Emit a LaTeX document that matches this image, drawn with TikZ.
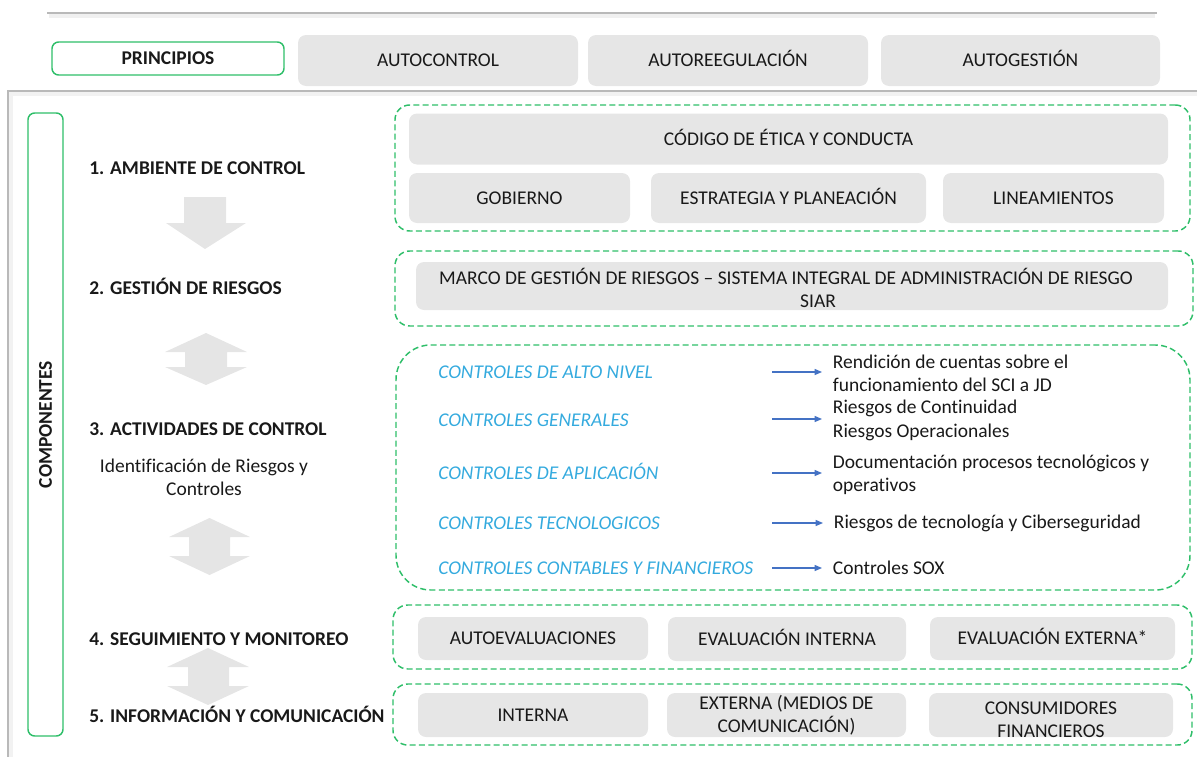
\documentclass[tikz,border=0pt]{standalone}
\usepackage{fontspec}
\setmainfont{Carlito}[Ligatures=NoCommon]
\usetikzlibrary{arrows.meta}
\definecolor{grn}{RGB}{46,190,105}
\definecolor{boxgray}{RGB}{230,230,230}
\definecolor{arrgray}{RGB}{229,229,229}
\definecolor{lblue}{RGB}{52,170,222}
\definecolor{dblue}{RGB}{68,114,196}
\definecolor{txt}{RGB}{25,25,25}
\definecolor{frameg}{RGB}{185,185,185}
\begin{document}
\begin{tikzpicture}[x=0.75pt,y=-0.75pt,
  font=\fontsize{14.6}{17.5}\selectfont, text=txt,
  sz/.style 2 args={minimum width=#1*0.75pt, minimum height=#2*0.75pt},
  gbox/.style={fill=boxgray, rounded corners=6pt, inner sep=0pt, align=center},
  one/.style={text height=9.4pt, text depth=0pt},
  dbox/.style={draw=grn, line width=1.1pt, dash pattern=on 4.5pt off 2.5pt, rounded corners=11pt, inner sep=0pt},
  sbox/.style={draw=grn, line width=1.1pt, rounded corners=5pt, inner sep=0pt},
  comp/.style={font=\fontsize{14.6}{17.5}\selectfont\bfseries, anchor=base west, inner sep=0pt},
  ctl/.style={text=lblue, font=\fontsize{14.6}{17.5}\selectfont\itshape, anchor=base west, inner sep=0pt},
  res/.style={anchor=west, align=left, inner xsep=8pt, inner ysep=0pt},
  conn/.style={draw=dblue, line width=0.9pt, -{Triangle[length=5.5pt,width=4.5pt]}},
  blk/.style={fill=arrgray}
]
\useasboundingbox (0,0) rectangle (1197,757);

% frame lines with soft shadow
\draw[gray!12, line width=2.5pt] (49,16) -- (1155,16);
\draw[frameg, line width=0.9pt] (47,13) -- (1157,13);
\draw[gray!10, line width=2.5pt] (11,757) -- (11,94) -- (1197,94);
\draw[frameg, line width=0.9pt] (8,757) -- (8,91) -- (1197,91);

% principles row
\node[sbox, one, sz={232}{33}, font=\fontsize{14.6}{17.5}\selectfont\bfseries] (pr) at (168,58.5) {PRINCIPIOS};
\node[gbox, one, sz={280}{51}] (p1) at (438,60.5) {AUTOCONTROL};
\node[gbox, one, sz={280}{51}] (p2) at (728,60.5) {AUTOREEGULACIÓN};
\node[gbox, one, sz={279}{51}] (p3) at (1020.5,60.5) {AUTOGESTIÓN};

% components column
\node[sbox, sz={35}{623}] (cmp) at (45.5,424.5) {};
\node[rotate=90, one, font=\fontsize{14.6}{17.5}\selectfont\bfseries] (cmpt) at (cmp.center) {COMPONENTES};

\node[comp] (c1) at (89,174) {1. AMBIENTE DE CONTROL};
\node[comp] (c2) at (89,294) {2. GESTIÓN DE RIESGOS};
\node[comp] (c3) at (89,435) {3. ACTIVIDADES DE CONTROL};
\node[align=center, inner sep=0pt] (c3b) at (204,477) {Identificación de Riesgos y\\Controles};
\node[comp] (c4) at (89,645) {4. SEGUIMIENTO Y MONITOREO};
\node[comp] (c5) at (89,722) {5. INFORMACIÓN Y COMUNICACIÓN};

% block arrows
\fill[blk] (184,197) -- (226,197) -- (226,223) -- (246,223) -- (205,249) -- (166,223) -- (184,223) -- cycle;
\fill[blk] (206,333) -- (247,352) -- (227,352) -- (227,367) -- (247,367) -- (206,385) -- (165,367) -- (185,367) -- (185,352) -- (165,352) -- cycle;
\fill[blk] (209.5,518) -- (250,537) -- (230,537) -- (230,556) -- (250,556) -- (209.5,575) -- (169,556) -- (189,556) -- (189,537) -- (169,537) -- cycle;
\fill[blk] (208,648) -- (249,667) -- (229,667) -- (229,686) -- (249,686) -- (208,705) -- (167,686) -- (188,686) -- (188,667) -- (167,667) -- cycle;

% dashed groups
\node[dbox, sz={795}{126}] (d1) at (792.5,168) {};
\node[dbox, sz={798}{75}] (d2) at (794,288.5) {};
\node[dbox, sz={794}{245}, rounded corners=26pt] (d3) at (793,467.5) {};
\node[dbox, sz={799}{64}] (d4) at (792.5,637) {};
\node[dbox, sz={799}{61}] (d5) at (792.5,714.5) {};

% group 1
\node[gbox, one, sz={759}{51}] (b11) at (788.5,139) {CÓDIGO DE ÉTICA Y CONDUCTA};
\node[gbox, one, sz={221}{50}] (b12) at (519.5,198) {GOBIERNO};
\node[gbox, one, sz={275}{50}] (b13) at (788.5,198) {ESTRATEGIA Y PLANEACIÓN};
\node[gbox, one, sz={221}{50}] (b14) at (1053.5,198) {LINEAMIENTOS};

% group 2
\node[gbox, sz={752}{48}] (b21) at (792,286) {};
\node[align=center, inner sep=0pt] (b21t) at (786,288) {MARCO DE GESTIÓN DE RIESGOS – SISTEMA INTEGRAL DE ADMINISTRACIÓN DE RIESGO\\\hspace*{48pt}SIAR};

% group 3
\node[ctl] (k1) at (438,378) {CONTROLES DE ALTO NIVEL};
\node[ctl] (k2) at (438,426) {CONTROLES GENERALES};
\node[ctl] (k3) at (438,479) {CONTROLES DE APLICACIÓN};
\node[ctl] (k4) at (438,529) {CONTROLES TECNOLOGICOS};
\node[ctl] (k5) at (438,574) {CONTROLES CONTABLES Y FINANCIEROS};

\node[res] (r1) at (822,373.5) {Rendición de cuentas sobre el\\funcionamiento del SCI a JD};
\node[res] (r2) at (822,420.5) {Riesgos de Continuidad\\Riesgos Operacionales};
\node[res] (r3) at (822,474.5) {Documentación procesos tecnológicos y\\operativos};
\node[res] (r4) at (823,523) {Riesgos de tecnología y Ciberseguridad};
\node[res] (r5) at (822,568) {Controles SOX};

\coordinate (a1) at (772,372);
\coordinate (a2) at (772,419);
\coordinate (a3) at (772,473);
\coordinate (a4) at (772,523);
\coordinate (a5) at (772,568);
\draw[conn] (a1) -- (a1 -| r1.west);
\draw[conn] (a2) -- (a2 -| r2.west);
\draw[conn] (a3) -- (a3 -| r3.west);
\draw[conn] (a4) -- (a4 -| r4.west);
\draw[conn] (a5) -- (a5 -| r5.west);

% group 4
\node[gbox, one, sz={230}{43}] (b41) at (533,638.5) {AUTOEVALUACIONES};
\node[gbox, one, sz={238}{44}] (b42) at (787,639) {EVALUACIÓN INTERNA};
\node[gbox, one, sz={245}{43}] (b43) at (1052.5,638.5) {EVALUACIÓN EXTERNA*};

% group 5
\node[gbox, one, sz={230}{44}] (b51) at (533,715) {INTERNA};
\node[gbox, sz={239}{44}] (b52) at (786.5,715) {EXTERNA (MEDIOS DE\\COMUNICACIÓN)};
\node[gbox, sz={244}{44}] (b53) at (1051,715) {};
\node[align=center, inner sep=0pt] (b53t) at (1051,720) {CONSUMIDORES\\FINANCIEROS};
\end{tikzpicture}
\end{document}
